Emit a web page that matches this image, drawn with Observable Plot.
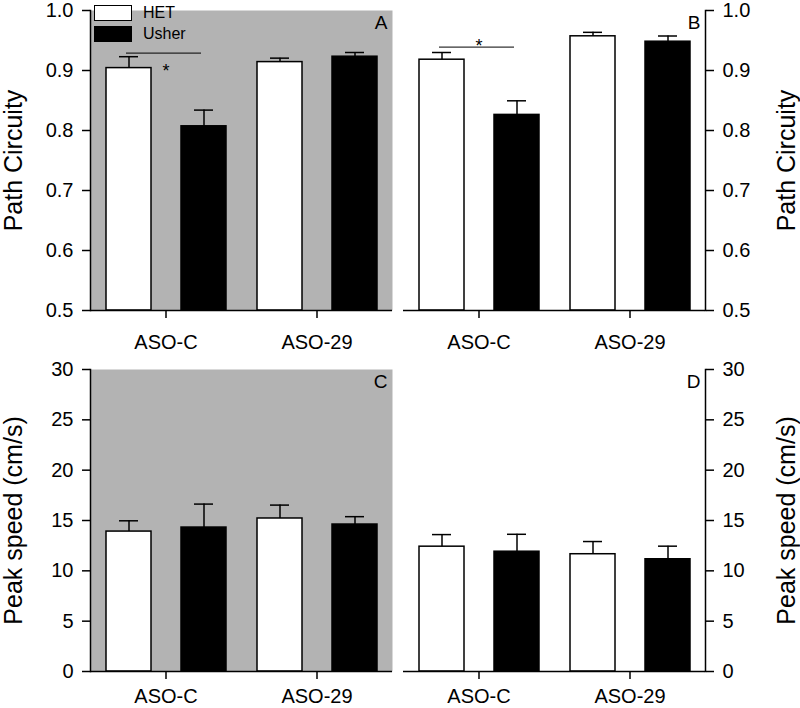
<!DOCTYPE html>
<html><head><meta charset="utf-8">
<script src="https://cdn.jsdelivr.net/npm/d3@7"></script>
<script src="https://cdn.jsdelivr.net/npm/@observablehq/plot@0.6"></script>
<style>
body{margin:0;background:#fff;font-family:"Liberation Sans",Arial,sans-serif;}
#fig{position:relative;width:800px;height:708px;overflow:hidden;}
.panel{position:absolute;}
.leg-box{position:absolute;width:38px;height:16px;box-sizing:border-box;border:1.5px solid #000;}
.leg-text{position:absolute;font-size:16px;line-height:16px;color:#000;}
</style></head><body>
<div id="fig"></div>
<script>
// ---- categories ----
const groups = ["ASO-C", "ASO-29"];
const seriesNames = ["HET", "Usher"];
const seriesFill = ["#ffffff", "#000000"];
const greyBg = "#b3b3b3";

// ---- Panel A: Path Circuity ----
const aHetMean = [0.904, 0.914];
const aHetSem = [0.019, 0.0066];
const aUsherMean = [0.807, 0.923];
const aUsherSem = [0.027, 0.007];
// ---- Panel B: Path Circuity ----
const bHetMean = [0.918, 0.957];
const bHetSem = [0.012, 0.0066];
const bUsherMean = [0.826, 0.948];
const bUsherSem = [0.0235, 0.0095];
// ---- Panel C: Peak speed ----
const cHetMean = [13.9, 15.2];
const cHetSem = [1.07, 1.33];
const cUsherMean = [14.3, 14.6];
const cUsherSem = [2.33, 0.78];
// ---- Panel D: Peak speed ----
const dHetMean = [12.4, 11.65];
const dHetSem = [1.2, 1.26];
const dUsherMean = [11.9, 11.15];
const dUsherSem = [1.73, 1.3];

// ---- axes ----
const circDomain = [0.5, 1.0];
const circTicks = [0.5, 0.6, 0.7, 0.8, 0.9, 1.0];
const speedDomain = [0, 30];
const speedTicks = [0, 5, 10, 15, 20, 25, 30];
const circLabel = "Path Circuity";
const speedLabel = "Peak speed (cm/s)";

// ---- significance annotations ----
const sigA = {group: "ASO-C", from: "HET", to: "Usher", y: 0.929, starY: 0.909};
const sigB = {group: "ASO-C", from: "HET", to: "Usher", y: 0.939, starY: 0.950};

function makeRows(hm, hs, um, us) {
  const rows = [];
  groups.forEach((g, i) => {
    rows.push({group: g, series: "HET", mean: hm[i], top: hm[i] + hs[i]});
    rows.push({group: g, series: "Usher", mean: um[i], top: um[i] + us[i]});
  });
  return rows;
}

function panel(cfg) {
  const left = cfg.side === "left";
  const base = cfg.domain[0];
  const marks = [];
  if (cfg.grey) marks.push(Plot.frame({fill: greyBg, stroke: "none", facet: "super"}));
  marks.push(
    Plot.barY(cfg.rows, {fx: "group", x: "series", y1: base, y2: "mean", fill: "series", stroke: "#000", strokeWidth: 1.5}),
    Plot.ruleX(cfg.rows, {fx: "group", x: "series", y1: "mean", y2: "top", stroke: "#000", strokeWidth: 1.5}),
    Plot.tickY(cfg.rows, {fx: "group", x: "series", y: "top", insetLeft: 13, insetRight: 13, stroke: "#000", strokeWidth: 1.5})
  );
  if (cfg.sig) {
    marks.push(
      Plot.link([cfg.sig], {fx: "group", x1: "from", x2: "to", y1: "y", y2: "y", stroke: "#000", strokeWidth: 1, dx: -3}),
      Plot.text([cfg.sig], {fx: "group", y: "starY", text: () => "*", fontSize: 18, dy: 6, fill: "#000"})
    );
  }
  marks.push(
    Plot.text([cfg.letter], {fx: () => groups[1], frameAnchor: "top-right", text: d => d, dx: -5, dy: 5, fontSize: 19, fill: "#000"}),
    Plot.ruleY([base], {stroke: "#000", strokeWidth: 1.5}),
    Plot.frame({anchor: cfg.side, facet: "super", stroke: "#000", strokeWidth: 1.5}),
    Plot.axisY({anchor: cfg.side, ticks: cfg.ticks, tickFormat: cfg.fmt, tickSize: 8, tickPadding: 9, fontSize: 20, strokeWidth: 1.5, label: null}),
    Plot.axisY({anchor: cfg.side, ticks: [], tickSize: 0, label: cfg.label, labelAnchor: "center", labelArrow: "none", labelOffset: left ? 86 : 89, fontSize: 25}),
    Plot.axisFx({anchor: "bottom", tickSize: 8, tickPadding: cfg.fxPad, fontSize: 20, strokeWidth: 1.5, label: null})
  );
  return Plot.plot({
    width: 400,
    height: cfg.height,
    marginTop: cfg.marginTop,
    marginBottom: cfg.marginBottom,
    marginLeft: left ? 90 : 3,
    marginRight: left ? 8 : 95,
    style: {fontFamily: "Liberation Sans, Arial, sans-serif", background: "transparent", color: "#000", overflow: "visible"},
    fx: {domain: groups, padding: 0},
    x: {domain: seriesNames, paddingInner: 0.4, paddingOuter: 0.2, axis: null},
    y: {domain: cfg.domain},
    color: {domain: seriesNames, range: seriesFill},
    marks
  });
}

const fig = document.getElementById("fig");
function place(svg, left, top) {
  const d = document.createElement("div");
  d.className = "panel";
  d.style.left = left + "px";
  d.style.top = top + "px";
  d.appendChild(svg);
  fig.appendChild(d);
}

const topH = 361, botH = 347;
place(panel({rows: makeRows(aHetMean, aHetSem, aUsherMean, aUsherSem), domain: circDomain, ticks: circTicks, fmt: ".1f", label: circLabel, side: "left", grey: true, letter: "A", sig: sigA, height: topH, marginTop: 10, marginBottom: 51, fxPad: 16}), 0, 0);
place(panel({rows: makeRows(bHetMean, bHetSem, bUsherMean, bUsherSem), domain: circDomain, ticks: circTicks, fmt: ".1f", label: circLabel, side: "right", grey: false, letter: "B", sig: sigB, height: topH, marginTop: 10, marginBottom: 51, fxPad: 16}), 400, 0);
place(panel({rows: makeRows(cHetMean, cHetSem, cUsherMean, cUsherSem), domain: speedDomain, ticks: speedTicks, fmt: "d", label: speedLabel, side: "left", grey: true, letter: "C", sig: null, height: botH, marginTop: 8, marginBottom: 37, fxPad: 9}), 0, topH);
place(panel({rows: makeRows(dHetMean, dHetSem, dUsherMean, dUsherSem), domain: speedDomain, ticks: speedTicks, fmt: "d", label: speedLabel, side: "right", grey: false, letter: "D", sig: null, height: botH, marginTop: 8, marginBottom: 37, fxPad: 9}), 400, topH);

// legend (inside panel A)
const legend = [
  {name: seriesNames[0], fill: seriesFill[0], top: 5},
  {name: seriesNames[1], fill: seriesFill[1], top: 26}
];
legend.forEach(l => {
  const b = document.createElement("div");
  b.className = "leg-box";
  b.style.left = "94px"; b.style.top = l.top + "px"; b.style.background = l.fill;
  fig.appendChild(b);
  const t = document.createElement("div");
  t.className = "leg-text";
  t.style.left = "143px"; t.style.top = l.top + "px";
  t.textContent = l.name;
  fig.appendChild(t);
});
</script>
</body></html>
